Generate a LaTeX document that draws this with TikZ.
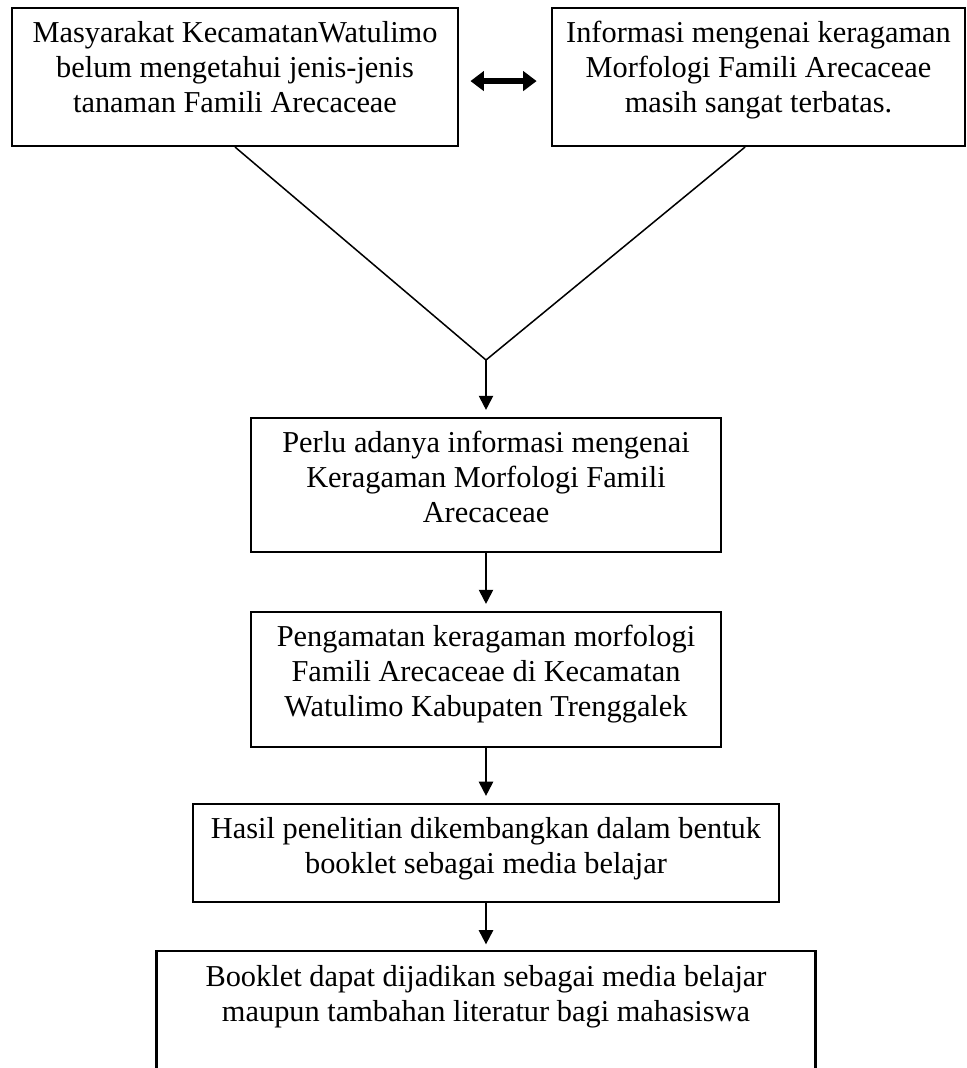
\documentclass[tikz,border=0pt]{standalone}
\usepackage{fontspec}
\setmainfont{Liberation Serif}
\usetikzlibrary{positioning,arrows.meta}

\tikzset{
  kotak/.style={draw, line width=0.8pt, inner sep=0pt},
  kosong/.style={inner sep=0pt},
  isi/.style={align=center, inner sep=0pt, font=\fontsize{12pt}{13.9pt}\selectfont,
    execute at begin node={\rule{0pt}{9pt}}},
  garis/.style={line width=0.6pt},
  panah/.style={-{Triangle[length=5.6pt,width=5.6pt]}, line width=0.8pt, shorten >=2.8pt},
  duaarah/.style={{Triangle[length=5.3pt,width=7.6pt]}-{Triangle[length=5.3pt,width=7.6pt]}, line width=2.1pt}
}

\begin{document}
\begin{tikzpicture}[x=0.395pt, y=-0.395pt]
\useasboundingbox (0,0) rectangle (966,1068);

% dua kotak atas
\node[kotak, minimum width=176.2pt, minimum height=54.5pt] (masyarakat) at (235,77) {};
\node[kotak, minimum width=163.1pt, minimum height=54.5pt] (informasi) at (758.5,77) {};
\node[isi, below=5.4pt of masyarakat.north] (teksmasyarakat) {Masyarakat KecamatanWatulimo\\belum mengetahui jenis-jenis\\tanaman Famili Arecaceae};
\node[isi, below=5.4pt of informasi.north] (teksinformasi) {Informasi mengenai keragaman\\Morfologi Famili Arecaceae\\masih sangat terbatas.};
\draw[duaarah, shorten <=4.5pt, shorten >=5.7pt] ([yshift=-1.6pt]masyarakat.east) -- ([yshift=-1.6pt]informasi.west);

% kotak tengah
\coordinate (temu) at (486,360);
\node[kotak, minimum width=185.7pt, minimum height=52.9pt] (perlu) at (486,485) {};
\node[isi, below=5.4pt of perlu.north] (teksperlu) {Perlu adanya informasi mengenai\\Keragaman Morfologi Famili\\Arecaceae};
\node[kotak, minimum width=185.7pt, minimum height=53.3pt] (pengamatan) at (486,679.5) {};
\node[isi, below=5.4pt of pengamatan.north] (tekspengamatan) {Pengamatan keragaman morfologi\\Famili Arecaceae di Kecamatan\\Watulimo Kabupaten Trenggalek};
\node[kotak, minimum width=231.1pt, minimum height=38.7pt] (hasil) at (486,853) {};
\node[isi, below=5.4pt of hasil.north] (tekshasil) {Hasil penelitian dikembangkan dalam bentuk\\booklet sebagai media belajar};

% kotak bawah, terbuka di bawah
\node[kosong, minimum width=259.9pt, minimum height=50.6pt] (booklet) at (486,1016) {};
\draw[line width=0.8pt] (booklet.south west) -- (booklet.north west) -- (booklet.north east) -- (booklet.south east);
\node[isi, below=5.4pt of booklet.north] (teksbooklet) {Booklet dapat dijadikan sebagai media belajar\\maupun tambahan literatur bagi mahasiswa};

% garis dan panah
\draw[garis] (masyarakat.south) -- (temu) -- ([xshift=-5.3pt]informasi.south);
\draw[panah] (temu) -- (perlu.north);
\draw[panah] (perlu.south) -- (pengamatan.north);
\draw[panah] (pengamatan.south) -- (hasil.north);
\draw[panah] (hasil.south) -- (booklet.north);
\end{tikzpicture}
\end{document}
